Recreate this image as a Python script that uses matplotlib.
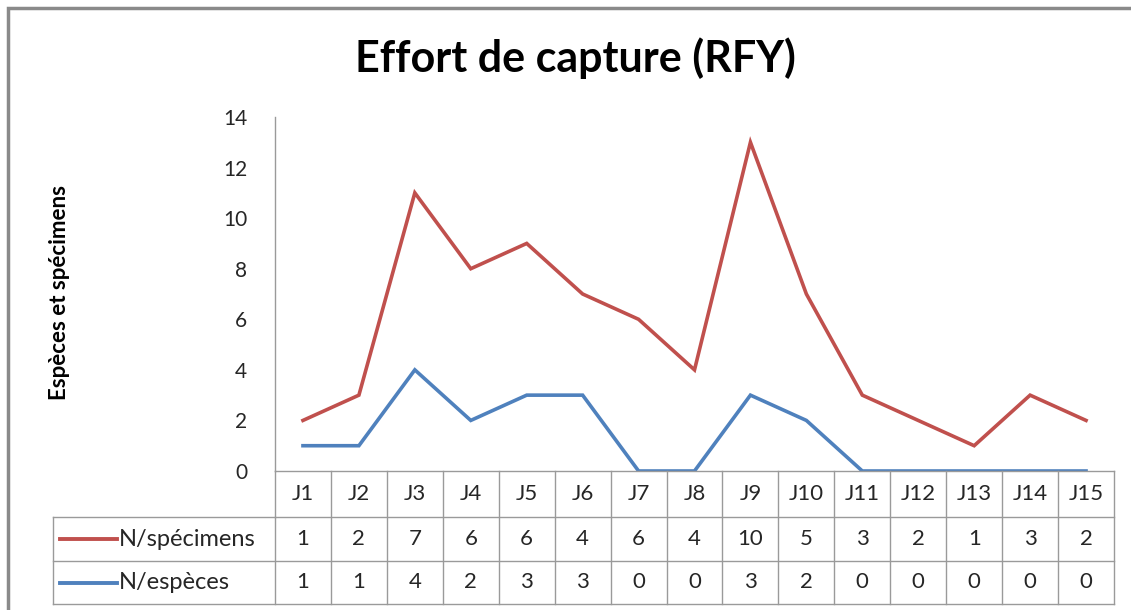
import numpy as np
import matplotlib.pyplot as plt
from matplotlib.patches import Rectangle
from matplotlib.lines import Line2D
import matplotlib.transforms as mtrans

days = ["J%d" % i for i in range(1, 16)]
specimens = [1, 2, 7, 6, 6, 4, 6, 4, 10, 5, 3, 2, 1, 3, 2]
especes = [1, 1, 4, 2, 3, 3, 0, 0, 3, 2, 0, 0, 0, 0, 0]
yticks = [0, 2, 4, 6, 8, 10, 12, 14]

RED = "#C0504D"
BLUE = "#4F81BD"
GRID = "#9a9a9a"
TXT = "#262626"

plt.rcParams['font.family'] = ['Lato', 'DejaVu Sans']

W, H = 1131, 610
fig = plt.figure(figsize=(W / 100, H / 100), dpi=100)

# plot area in pixels
x0, x1, ytop, ybot = 275, 1114, 117, 471
ax = fig.add_axes([x0 / W, (H - ybot) / H, (x1 - x0) / W, (ybot - ytop) / H])

x = np.arange(len(days))
# stacked line chart (Excel "stacked line")
stack_esp = np.array(especes)
stack_spec = stack_esp + np.array(specimens)
ax.plot(x, stack_spec, color=RED, lw=2.6, solid_joinstyle="miter")
ax.plot(x, stack_esp, color=BLUE, lw=2.6, solid_joinstyle="miter")

ax.set_xlim(-0.5, len(days) - 0.5)
ax.set_ylim(0, 14)
ax.set_yticks(yticks)
ax.tick_params(axis="y", length=0, labelsize=15, labelcolor=TXT, pad=20)
ax.set_xticks([])
for s in ["top", "right"]:
    ax.spines[s].set_visible(False)
ax.spines["left"].set_color(GRID)
ax.spines["bottom"].set_color(GRID)
ax.spines["left"].set_linewidth(1)
ax.spines["bottom"].set_linewidth(1)

# data table below the axis
tr = mtrans.blended_transform_factory(ax.transData, ax.transAxes)
ph = ybot - ytop
r1 = -(517 - ybot) / ph
r2 = -(561 - ybot) / ph
r3 = -(604 - ybot) / ph
colw = (x1 - x0) / len(days)
xl = -0.5 - (x0 - 53) / colw
xr = len(days) - 0.5

def hline(xa, xb, y):
    ax.add_line(Line2D([xa, xb], [y, y], transform=tr, color=GRID, lw=1, clip_on=False))

def vline(xv, ya, yb):
    ax.add_line(Line2D([xv, xv], [ya, yb], transform=tr, color=GRID, lw=1, clip_on=False))

hline(-0.5, xr, r1)
hline(xl, xr, r2)
hline(xl, xr, r3)
hline(xl, -0.5, r1)
vline(xl, r1, r3)
for i in range(len(days) + 1):
    vline(i - 0.5, 0, r3)

tkw = dict(transform=tr, ha="center", va="center", fontsize=16, color=TXT, clip_on=False)
for i, d in enumerate(days):
    ax.text(i, r1 / 2, d, **tkw)
    ax.text(i, (r1 + r2) / 2, str(specimens[i]), **tkw)
    ax.text(i, (r2 + r3) / 2, str(especes[i]), **tkw)

labels = [("N/spécimens", RED, (r1 + r2) / 2), ("N/espèces", BLUE, (r2 + r3) / 2)]
for name, col, yy in labels:
    ax.add_line(Line2D([xl + 7 / colw, xl + 64 / colw], [yy, yy], transform=tr, color=col,
                       lw=2.8, clip_on=False))
    ax.text(xl + 66 / colw, yy, name, transform=tr, ha="left", va="center", fontsize=17,
            color=TXT, clip_on=False)

# title and y label
fig.text(575 / W, 1 - 72 / H, "Effort de capture (RFY)", ha="center", va="baseline",
         fontsize=31, fontweight="bold", color="black")
fig.text(60 / W, 1 - 293 / H, "Espèces et spécimens", ha="center", va="center",
         rotation=90, fontsize=16, fontweight="bold", color="black")

# outer chart frame (only top and left edges visible)
fig.patches.append(Rectangle((8 / W, -0.05), 1.1, 1.05 - 8 / H,
                             transform=fig.transFigure, fill=False, ec="#8a8a8a", lw=2.5))

fig.savefig("out.png", dpi=100)
